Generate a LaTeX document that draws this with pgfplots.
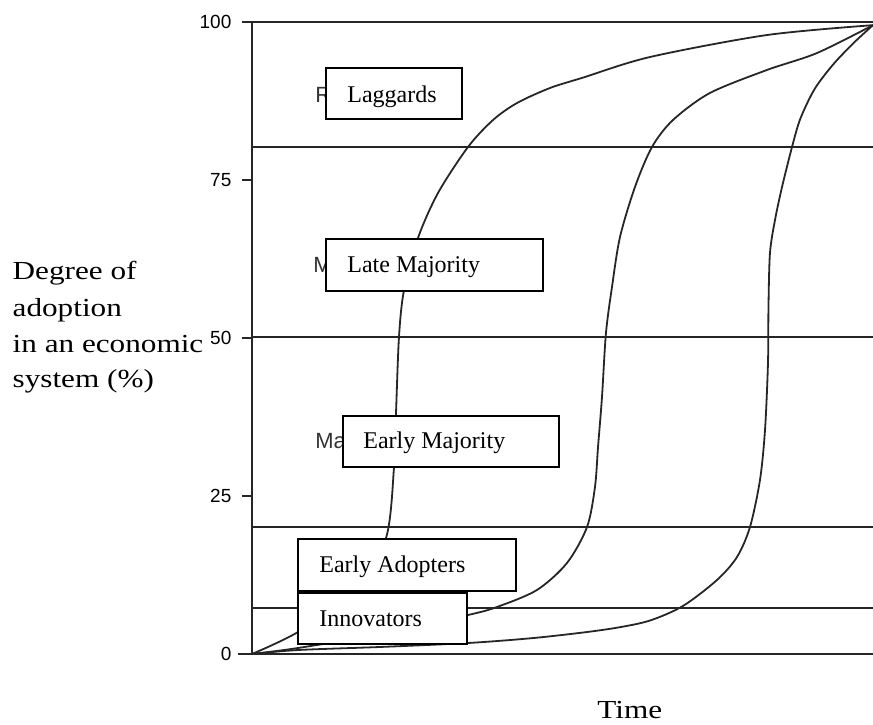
\documentclass[border=0pt]{standalone}
\usepackage{fontspec}
\setmainfont{Liberation Serif}
\newfontfamily\widefont[FakeStretch=1.2]{Liberation Serif}
\newfontfamily\tickfont{Liberation Sans}
\usepackage{pgfplots}
\pgfplotsset{compat=1.18}

\begin{document}
\begin{tikzpicture}
\useasboundingbox (-126pt,-35pt) rectangle (310.5pt,327pt);
\begin{axis}[
  scale only axis,
  width=310.5pt, height=316pt,
  xmin=0, xmax=100, ymin=0, ymax=100,
  clip=false,
  axis x line*=bottom, axis y line*=left,
  axis line style={line width=0.9pt, black!85},
  xtick=\empty,
  ytick={0,25,50,75,100},
  tick align=outside,
  major tick length=5pt,
  tick style={line width=0.9pt, black!85},
  /pgf/number format/assume math mode=true,
  yticklabel style={font=\tickfont\fontsize{9.5}{11}\selectfont, xshift=-1.8pt},
]
% segment boundaries
\addplot[line width=0.9pt, black!85] coordinates {(-1.6,100)(100,100)};
\addplot[line width=0.9pt, black!85] coordinates {(0,80.2)(100,80.2)};
\addplot[line width=0.9pt, black!85] coordinates {(0,50.2)(100,50.2)};
\addplot[line width=0.9pt, black!85] coordinates {(0,20.1)(100,20.1)};
\addplot[line width=0.9pt, black!85] coordinates {(0,7.3)(100,7.3)};
\addplot[line width=0.9pt, black!85] coordinates {(-2.2,0)(100,0)};

% fast diffusion
\addplot[line width=0.9pt, black!85, smooth, tension=0.5] coordinates {
  (0,0)(7.41,3.48)(16.59,9.81)(21.58,18.35)(22.87,29.59)(23.19,38.13)
  (23.67,50.16)(24.48,57.59)(26.73,65.82)(29.95,72.94)(34.78,80.22)
  (38.81,84.49)(42.67,87.18)(47.99,89.56)(53.30,91.2)(64.09,94.46)
  (82.93,97.94)(100,99.5)
};
% medium diffusion
\addplot[line width=0.9pt, black!85, smooth, tension=0.5] coordinates {
  (0,0)(7.41,0.95)(20.61,3.16)(34.78,6.17)(39.45,7.44)(45.89,10.13)
  (50.72,14.40)(53.95,20.09)(55.23,26.42)(55.72,32.75)(56.36,40.66)
  (57.00,50.79)(57.97,58.07)(59.26,65.98)(61.67,73.89)(64.41,80.22)
  (67.79,84.49)(73.75,88.77)(82.93,92.41)(90.98,95.09)(100,99.5)
};
% slow diffusion
\addplot[line width=0.9pt, black!85, smooth, tension=0.5] coordinates {
  (0,0)(7.41,0.63)(20.61,1.11)(34.78,1.74)(45.0,2.5)(53.30,3.4)(59.0,4.2)
  (64.09,5.3)(69.40,7.6)(74.88,11.71)(78.10,15.35)(80.19,20.09)(81.80,27.53)
  (82.61,35.44)(83.09,46.04)(83.17,55.0)(83.41,63.45)(84.22,68.67)
  (85.35,73.89)(86.96,80.22)(88.3,84.7)(90.6,89.4)(93.6,93.3)
  (96.9,96.7)(100,99.5)
};

% remains of the original labels
\node[font=\tickfont\fontsize{11}{13}\selectfont, black!80, anchor=base west, inner sep=0pt] at (axis cs:10.14,87.34) {R};
\node[font=\tickfont\fontsize{11}{13}\selectfont, black!80, anchor=base west, inner sep=0pt] at (axis cs:9.82,60.44) {M};
\node[font=\tickfont\fontsize{11}{13}\selectfont, black!80, anchor=base west, inner sep=0pt] at (axis cs:10.14,32.59) {Ma};

% category boxes
\draw[line width=1pt, fill=white] (axis cs:11.92,92.72) rectangle (axis cs:33.82,84.65);
\node[font=\fontsize{12}{14}\selectfont, anchor=base west, inner sep=0pt] at (axis cs:15.30,87.34) {Laggards};
\draw[line width=1pt, fill=white] (axis cs:11.92,65.66) rectangle (axis cs:46.86,57.44);
\node[font=\fontsize{12}{14}\selectfont, anchor=base west, inner sep=0pt] at (axis cs:15.30,60.44) {Late Majority};
\draw[line width=1pt, fill=white] (axis cs:14.65,37.66) rectangle (axis cs:49.44,29.59);
\node[font=\fontsize{12}{14}\selectfont, anchor=base west, inner sep=0pt] at (axis cs:17.87,32.44) {Early Majority};
\draw[line width=1pt, fill=white] (axis cs:7.41,18.20) rectangle (axis cs:42.51,9.97);
\node[font=\fontsize{12}{14}\selectfont, anchor=base west, inner sep=0pt] at (axis cs:10.79,12.82) {Early Adopters};
\draw[line width=1pt, fill=white] (axis cs:7.41,9.65) rectangle (axis cs:34.62,1.58);
\node[font=\fontsize{12}{14}\selectfont, anchor=base west, inner sep=0pt] at (axis cs:10.79,4.43) {Innovators};

% axis titles
\node[font=\widefont\fontsize{13}{15}\selectfont, anchor=base west, inner sep=0pt] at (axis cs:-38.6,59.18) {Degree of};
\node[font=\widefont\fontsize{13}{15}\selectfont, anchor=base west, inner sep=0pt] at (axis cs:-38.6,53.48) {adoption};
\node[font=\widefont\fontsize{13}{15}\selectfont, anchor=base west, inner sep=0pt] at (axis cs:-38.6,47.78) {in an economic};
\node[font=\widefont\fontsize{13}{15}\selectfont, anchor=base west, inner sep=0pt] at (axis cs:-38.6,42.09) {system (\%)};
\node[font=\widefont\fontsize{13}{15}\selectfont, anchor=base west, inner sep=0pt] at (axis cs:55.56,-10.13) {Time};
\end{axis}
\end{tikzpicture}
\end{document}
